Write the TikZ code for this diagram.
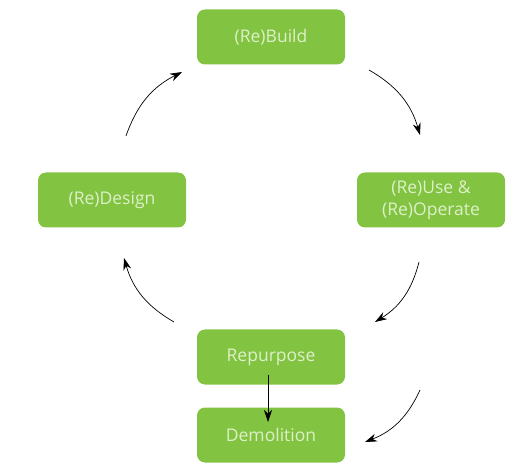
\documentclass[tikz,border=0pt]{standalone}
\usepackage{fontspec}
\setmainfont{Open Sans}
\usetikzlibrary{arrows.meta}
\definecolor{leaf}{HTML}{82C341}
\definecolor{paleleaf}{HTML}{DDF0C9}
\tikzset{
	stage/.style={fill=leaf, rounded corners=8pt, minimum width=148pt, minimum height=55pt,
		text=paleleaf, font=\fontsize{17.5}{22}\selectfont, align=center, inner sep=0pt},
	cycle/.style={-{Stealth[length=12pt,width=8pt]}, line width=0.7pt, bend left=22},
}

\begin{document}
\begin{tikzpicture}[x=1pt, y=1pt]
		%%%%% START %%%%%
		
		\useasboundingbox (0, 0) rectangle (508, 463);
		
		\node[stage] (build) at (271, 426) {(Re)Build};
		\node[stage] (use) at (431, 263) {(Re)Use \&\\(Re)Operate};
		\node[stage] (design) at (112, 263) {(Re)Design};
		\node[stage] (repurpose) at (271, 106) {Repurpose};
		\node[stage] (demolition) at (271, 28) {Demolition};
		
		\coordinate (d1) at (126, 327);
		\coordinate (d2) at (182, 391);
		\coordinate (b1) at (369, 393);
		\coordinate (b2) at (420, 328);
		\coordinate (u1) at (419, 201);
		\coordinate (u2) at (375, 141);
		\coordinate (r1) at (174, 141);
		\coordinate (r2) at (124, 205);
		\coordinate (x1) at (420, 73);
		\coordinate (x2) at (365, 21);
		
		\draw[cycle] (d1) to (d2);
		\draw[cycle] (b1) to (b2);
		\draw[cycle] (u1) to (u2);
		\draw[cycle] (r1) to (r2);
		\draw[cycle] (x1) to (x2);
		
		\coordinate (p1) at (268, 88);
		\coordinate (p2) at (268, 41);
		\draw[-{Stealth[length=12pt,width=8pt]}, line width=0.7pt] (p1) -- (p2);
		
		%%%%% END %%%%%
\end{tikzpicture}
\end{document}
